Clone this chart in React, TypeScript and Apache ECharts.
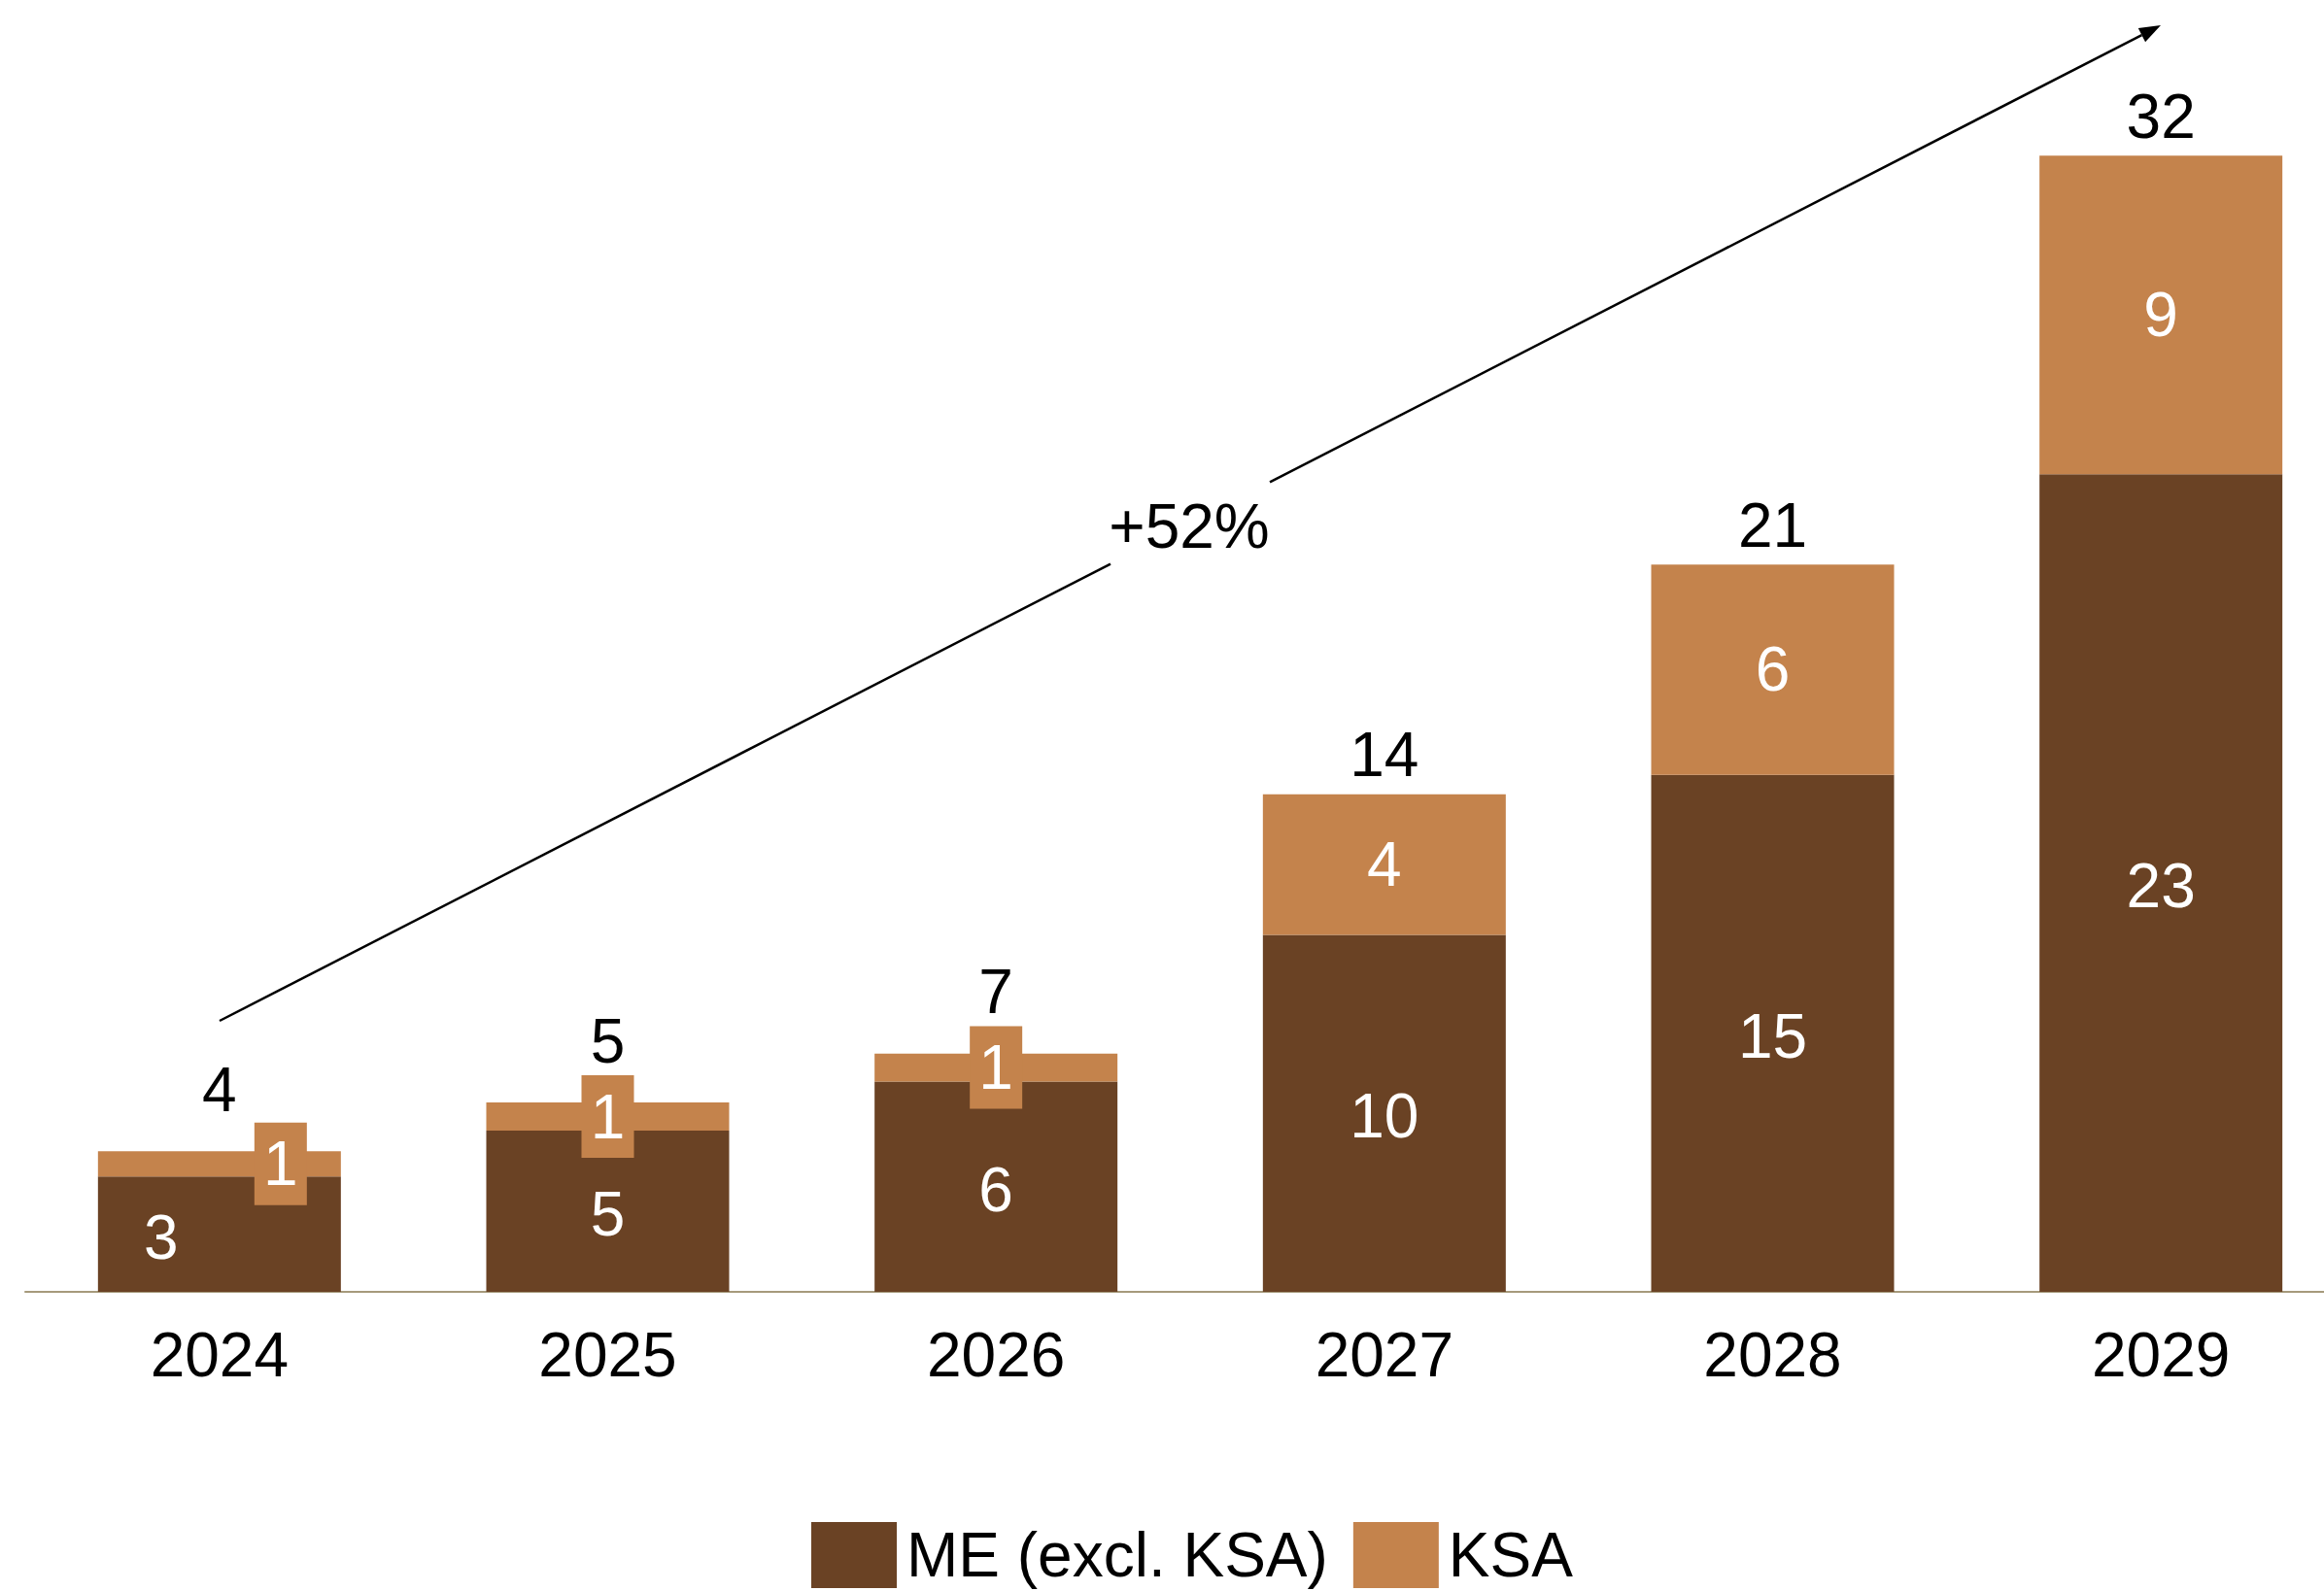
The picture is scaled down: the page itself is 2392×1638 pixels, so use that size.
import React, { useEffect, useRef } from "react";
import * as echarts from "echarts";

const categories = ["2024", "2025", "2026", "2027", "2028", "2029"];
const meValues = [3.25, 4.54, 5.92, 10.05, 14.56, 23.02];
const ksaValues = [0.71, 0.79, 0.79, 3.96, 5.92, 8.97];
const meLabels = ["3", "5", "6", "10", "15", "23"];
const ksaLabels = ["1", "1", "1", "4", "6", "9"];
const totalLabels = ["4", "5", "7", "14", "21", "32"];
const seriesNames = ["ME (excl. KSA)", "KSA"];
const cagrLabel = "+52%";

const ME_COLOR = "#6A4224";
const KSA_COLOR = "#C4834C";
const FONT = "'Liberation Sans', Arial, sans-serif";
const FS = 64;

export default function App() {
  const ref = useRef<HTMLDivElement>(null);
  useEffect(() => {
    if (!ref.current) return;
    const chart = echarts.init(ref.current, null, { renderer: "svg" });
    const totals = meValues.map((v, i) => v + ksaValues[i]);

    const meData = meValues.map((v, i) => ({
      value: v,
      label: {
        formatter: meLabels[i],
        offset: v < 4 ? [-60, 3] : [0, 3],
      },
    }));
    const ksaData = ksaValues.map((v, i) => {
      const small = v < 1.5;
      return {
        value: v,
        label: small
          ? {
              formatter: ksaLabels[i],
              backgroundColor: KSA_COLOR,
              width: 54,
              height: 85,
              lineHeight: 85,
              align: "center",
              verticalAlign: "middle",
              offset: meValues[i] < 4 ? [63, 0] : [0, 0],
            }
          : { formatter: ksaLabels[i] },
      };
    });
    const totalData = totals.map((t, i) => ({
      value: [i, t],
      label: {
        formatter: totalLabels[i],
        distance: ksaValues[i] < 1.5 ? 31 : 8,
      },
    }));

    // arrow geometry (annotation)
    const start = [226, 1051];
    const tip = [2224, 26];
    const dx = tip[0] - start[0];
    const dy = tip[1] - start[1];
    const len = Math.sqrt(dx * dx + dy * dy);
    const ux = dx / len;
    const uy = dy / len;
    const headLen = 22;
    const headHalf = 8;
    const base = [tip[0] - headLen * ux, tip[1] - headLen * uy];
    const px = -uy * headHalf;
    const py = ux * headHalf;
    const yAt = (x: number) => start[1] + (dy / dx) * (x - start[0]);
    const gapA = 1143;
    const gapB = 1307;

    chart.setOption({
      animation: false,
      grid: { left: 26, width: 2398, top: 160, height: 1170 },
      xAxis: {
        type: "category",
        data: categories,
        axisLine: { show: true, lineStyle: { color: "#A69A7C", width: 2 } },
        axisTick: { show: false },
        axisLabel: { color: "#000", fontSize: FS, fontFamily: FONT, margin: 33 },
        splitLine: { show: false },
      },
      yAxis: { type: "value", min: 0, max: 32, show: false, splitLine: { show: false } },
      legend: {
        data: seriesNames,
        left: 830,
        top: 1562,
        itemWidth: 88,
        itemHeight: 68,
        itemGap: 26,
        icon: "rect",
        selectedMode: false,
        textStyle: { color: "#000", fontSize: FS, fontFamily: FONT, padding: [0, 0, 0, 5] },
      },
      series: [
        {
          name: seriesNames[0],
          type: "bar",
          stack: "total",
          barWidth: 250,
          itemStyle: { color: ME_COLOR },
          label: { show: true, position: "inside", color: "#fff", fontSize: FS, fontFamily: FONT },
          data: meData,
          silent: true,
        },
        {
          name: seriesNames[1],
          type: "bar",
          stack: "total",
          barWidth: 250,
          itemStyle: { color: KSA_COLOR },
          label: { show: true, position: "inside", color: "#fff", fontSize: FS, fontFamily: FONT },
          data: ksaData,
          silent: true,
        },
        {
          name: "Total",
          type: "scatter",
          symbolSize: 1,
          itemStyle: { color: "rgba(0,0,0,0)", opacity: 1 },
          label: {
            show: true,
            position: "top",
            color: "#000000",
            textBorderWidth: 0,
            fontSize: FS,
            fontFamily: FONT,
          },
          data: totalData,
          silent: true,
          z: 5,
        },
      ],
      graphic: [
        {
          type: "line",
          shape: { x1: start[0], y1: start[1], x2: gapA, y2: yAt(gapA) },
          style: { stroke: "#000", lineWidth: 2.5 },
        },
        {
          type: "line",
          shape: { x1: gapB, y1: yAt(gapB), x2: base[0], y2: base[1] },
          style: { stroke: "#000", lineWidth: 2.5 },
        },
        {
          type: "polygon",
          shape: {
            points: [
              [tip[0], tip[1]],
              [base[0] + px, base[1] + py],
              [base[0] - px, base[1] - py],
            ],
          },
          style: { fill: "#000" },
        },
        {
          type: "text",
          x: 1224,
          y: 542,
          style: {
            text: cagrLabel,
            fill: "#000",
            fontSize: FS,
            fontFamily: FONT,
            align: "center",
            verticalAlign: "middle",
          },
        },
      ],
    });
    return () => chart.dispose();
  }, []);
  return (
    <div
      style={{
        position: "absolute",
        left: 0,
        top: 0,
        width: 2392,
        height: 1638,
        overflow: "hidden",
      }}
    >
      <div ref={ref} style={{ width: 2430, height: 1638 }} />
    </div>
  );
}
